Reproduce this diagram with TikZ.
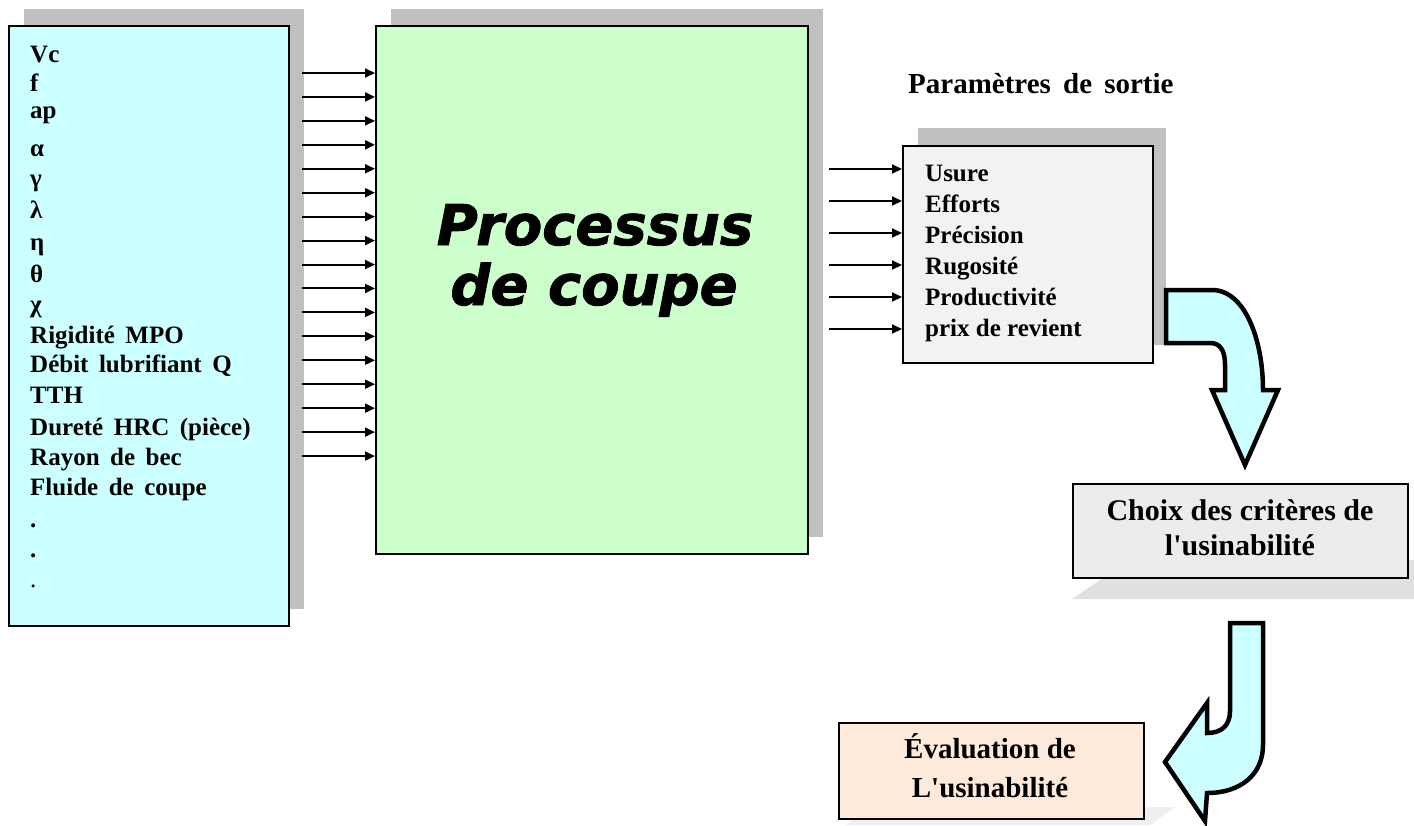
\documentclass[tikz,border=0pt]{standalone}
\usepackage{fontspec}
\setmainfont{Liberation Serif}[Ligatures=TeXOff]
\newfontfamily\procfont{DejaVu Sans}[BoldItalicFeatures={FakeBold=1.6}]
\usetikzlibrary{arrows.meta}
\definecolor{cyanbox}{HTML}{CCFFFF}
\definecolor{greenbox}{HTML}{CCFFCC}
\definecolor{greybox}{HTML}{F2F2F2}
\definecolor{shadowgrey}{HTML}{C0C0C0}
\definecolor{peach}{HTML}{FDEADA}
\definecolor{marble}{HTML}{ECECEC}
\definecolor{softshadow}{HTML}{E0E0E0}
\definecolor{paleshadow}{HTML}{EFEFEF}
\newcommand\widespaces{\spaceskip=0.42em\relax}
\begin{document}
\begin{tikzpicture}[x=1pt,y=-1pt,
  box/.style={draw=black, line width=2pt, inner sep=0pt, anchor=north west},
  shadowfill/.style={fill=shadowgrey},
  inarr/.style={line width=2pt, -{Triangle[length=10pt,width=9pt]}},
  bigarrow/.style={draw=black, line width=4.5pt, fill=cyanbox, line join=miter},
  intext/.style={font=\bfseries\fontsize{25}{28}\selectfont\widespaces, anchor=base west, inner sep=0pt},
  outtext/.style={font=\bfseries\fontsize{25}{28}\selectfont, anchor=base west, inner sep=0pt},
  boxtext/.style={font=\bfseries\fontsize{29}{34}\selectfont, anchor=base, inner sep=0pt},
  proctext/.style={font=\procfont\bfseries\itshape\fontsize{56}{60}\selectfont, anchor=base, inner sep=0pt}
]
\useasboundingbox (0,0) rectangle (1414,825);

% shadows
\fill[shadowfill] (24,9) rectangle (304,609);
\fill[shadowfill] (391,9) rectangle (823,537);
\fill[shadowfill] (918,128) rectangle (1166,345);
\fill[softshadow] (1072,599) -- (1130,560) -- (1414,560) -- (1414,599) -- cycle;
\fill[paleshadow] (845,825) -- (872,807) -- (1175,807) -- (1150,825) -- cycle;

% boxes
\node[box, fill=cyanbox, minimum width=280pt, minimum height=600pt] (inbox) at (8,25) {};
\node[box, fill=greenbox, minimum width=432pt, minimum height=528pt] (proc) at (375,25) {};
\node[box, fill=greybox, minimum width=250pt, minimum height=217pt] (outbox) at (902,145) {};
\node[box, fill=marble, minimum width=335pt, minimum height=94pt] (choice) at (1072,483) {};
\node[box, fill=peach, minimum width=305pt, minimum height=96pt] (evalbox) at (838,722) {};

% input parameters
\foreach \yy/\lbl in {62/Vc, 91/f, 118/ap, 156/α, 186/γ, 218/λ, 250/η, 282/θ, 312/χ,
   343/Rigidité MPO, 372/Débit lubrifiant Q, 403/TTH, 435/Dureté HRC (pièce),
   465/Rayon de bec, 495/Fluide de coupe, 527/., 557/.}
  \node[intext] at (30,\yy) {\lbl};
\node[intext, font=\fontsize{25}{28}\selectfont] at (30,587) {.};

% input arrows
\foreach \i [evaluate=\i as \yy using 73+23.94*\i] in {0,...,16} {
  \coordinate (s\i) at (302,\yy);
  \draw[inarr] (s\i) -- (s\i -| proc.west);
}

% process text
\node[proctext] (p1) at (595,245) {Processus};
\node[proctext] (p2) at (594,305) {de coupe};

% output title
\node[outtext, font=\bfseries\fontsize{29}{32}\selectfont\widespaces] (otitle) at (908,93) {Paramètres de sortie};

% output arrows
\foreach \i [evaluate=\i as \yy using 169+32*\i] in {0,...,5} {
  \coordinate (o\i) at (829,\yy);
  \draw[inarr] (o\i) -- (o\i -| outbox.west);
}

% output parameters
\foreach \yy/\lbl in {181/Usure, 212/Efforts, 243/Précision, 274/Rugosité, 305/Productivité, 336/prix de revient}
  \node[outtext] at (925,\yy) {\lbl};

% choice text
\node[boxtext, font=\bfseries\fontsize{30}{34}\selectfont] (c1) at (1240,520) {Choix des critères de};
\node[boxtext, font=\bfseries\fontsize{30}{34}\selectfont] (c2) at (1240,555) {l'usinabilité};

% evaluation text
\node[boxtext] (e1) at (990,758) {Évaluation de};
\node[boxtext] (e2) at (990,797) {L'usinabilité};

% curved arrow 1
\draw[bigarrow] (1166,290) -- (1212,290)
   .. controls (1245,290) and (1263,340) .. (1263,390)
   -- (1278,390) -- (1245,465) -- (1212,390) -- (1225,390) -- (1225,365)
   .. controls (1225,350) and (1220,343) .. (1210,343)
   -- (1166,343) -- cycle;

% curved arrow 2
\draw[bigarrow] (1230,623) -- (1263,623) -- (1263,745)
   .. controls (1263,775) and (1240,793) .. (1207,793)
   -- (1205,821) -- (1165,762) -- (1207,703) -- (1207,733)
   .. controls (1222,733) and (1230,725) .. (1230,711)
   -- cycle;
\end{tikzpicture}
\end{document}
